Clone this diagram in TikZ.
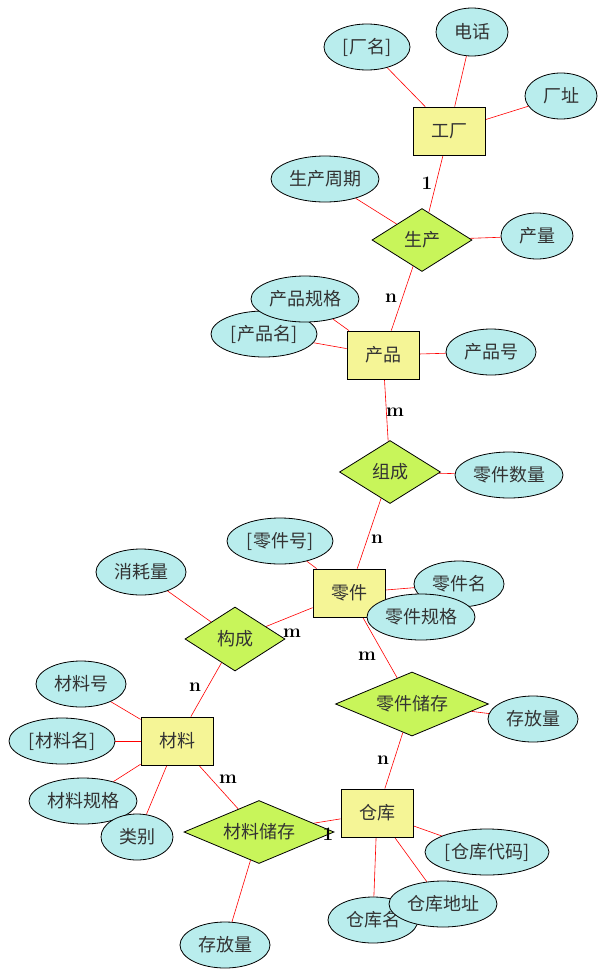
\documentclass[tikz,border=0pt]{standalone}
\usepackage{fontspec}
\newfontfamily\cjk{Noto Sans CJK SC}
\usetikzlibrary{shapes.geometric}
\pgfdeclarelayer{bg}
\pgfsetlayers{bg,main}
\definecolor{entfill}{RGB}{245,245,150}
\definecolor{relfill}{RGB}{200,245,90}
\definecolor{attfill}{RGB}{185,237,237}
\begin{document}
\begin{tikzpicture}[x=1pt,y=-1pt,
  cjkfont/.style={font=\cjk\fontsize{18}{20}\selectfont, text=black!80},
  ent/.style={cjkfont, rectangle, draw=black, line width=0.8pt, fill=entfill, minimum width=72pt, minimum height=48pt, inner sep=0pt},
  rel/.style={cjkfont, diamond, draw=black, line width=0.8pt, fill=relfill, inner sep=0pt, aspect=1.6, minimum height=63pt},
  att/.style={cjkfont, ellipse, draw=black, line width=0.8pt, fill=attfill, inner sep=0pt, minimum height=46pt},
  conn/.style={red, line width=0.6pt},
  card/.style={font=\fontsize{19}{21}\selectfont\bfseries, text=black}]
\useasboundingbox (0,0) rectangle (604,977);

% entities
\node[ent] (gc) at (449,131) {工厂};
\node[ent] (cp) at (383,355) {产品};
\node[ent] (lj) at (349,593) {零件};
\node[ent] (cl) at (177,741) {材料};
\node[ent] (ck) at (377,813) {仓库};

% relationships
\node[rel, minimum width=100pt] (sc) at (422,240) {生产};
\node[rel, minimum width=101pt] (zc) at (390,472) {组成};
\node[rel, minimum width=100pt, minimum height=64pt] (gouc) at (235,639) {构成};
\node[rel, aspect=2.4, minimum width=153pt, minimum height=64pt] (ljcc) at (412,704) {零件储存};
\node[rel, aspect=2.4, minimum width=150pt] (clcc) at (259,832) {材料储存};

% attributes
\node[att, minimum width=86pt] (cm) at (367,47) {[厂名]};
\node[att, minimum width=72pt, minimum height=48pt] (dh) at (472,32) {电话};
\node[att, minimum width=72pt] (cz) at (561,96) {厂址};
\node[att, minimum width=108pt] (sczq) at (325,179) {生产周期};
\node[att, minimum width=72pt] (cl2) at (537,236) {产量};
\node[att, minimum width=106pt] (cpm) at (264,334) {[产品名]};
\node[att, minimum width=108pt] (cpgg) at (305,299) {产品规格};
\node[att, minimum width=90pt] (cph) at (491,352) {产品号};
\node[att, minimum width=108pt] (ljsl) at (509,475) {零件数量};
\node[att, minimum width=106pt] (ljh) at (280,541) {[零件号]};
\node[att, minimum width=90pt] (xhl) at (141,572) {消耗量};
\node[att, minimum width=90pt] (ljm) at (459,584) {零件名};
\node[att, minimum width=108pt] (ljgg) at (421,617) {零件规格};
\node[att, minimum width=90pt] (cflA) at (533,719) {存放量};
\node[att, minimum width=90pt] (clh) at (81,684) {材料号};
\node[att, minimum width=106pt] (clm) at (62,741) {[材料名]};
\node[att, minimum width=108pt] (clgg) at (83,801) {材料规格};
\node[att, minimum width=72pt] (lb) at (137,837) {类别};
\node[att, minimum width=90pt] (cflB) at (225,945) {存放量};
\node[att, minimum width=124pt] (ckdm) at (487,852) {[仓库代码]};
\node[att, minimum width=90pt] (ckm) at (373,920) {仓库名};
\node[att, minimum width=108pt] (ckdz) at (443,904) {仓库地址};

% connectors
\begin{pgfonlayer}{bg}
\fill[white] (0,0) rectangle (604,977);
\draw[conn] (gc) -- (cm);
\draw[conn] (gc) -- (dh);
\draw[conn] (gc) -- (cz);
\draw[conn] (gc) -- (sc);
\draw[conn] (sc) -- (sczq);
\draw[conn] (sc) -- (cl2);
\draw[conn] (sc) -- (cp);
\draw[conn] (cp) -- (cpgg);
\draw[conn] (cp) -- (cpm);
\draw[conn] (cp) -- (cph);
\draw[conn] (cp) -- (zc);
\draw[conn] (zc) -- (ljsl);
\draw[conn] (zc) -- (lj);
\draw[conn] (lj) -- (ljh);
\draw[conn] (lj) -- (ljm);
\draw[conn] (lj) -- (ljgg);
\draw[conn] (lj) -- (gouc);
\draw[conn] (lj) -- (ljcc);
\draw[conn] (gouc) -- (xhl);
\draw[conn] (gouc) -- (cl);
\draw[conn] (cl) -- (clh);
\draw[conn] (cl) -- (clm);
\draw[conn] (cl) -- (clgg);
\draw[conn] (cl) -- (lb);
\draw[conn] (cl) -- (clcc);
\draw[conn] (ljcc) -- (cflA);
\draw[conn] (ljcc) -- (ck);
\draw[conn] (clcc) -- (cflB);
\draw[conn] (clcc) -- (ck);
\draw[conn] (ck) -- (ckdm);
\draw[conn] (ck) -- (ckm);
\draw[conn] (ck) -- (ckdz);
\end{pgfonlayer}

% cardinalities
\node[card] (k1) at (427,183) {1};
\node[card] (k2) at (391,298) {n};
\node[card] (k3) at (395,412) {m};
\node[card] (k4) at (377,539) {n};
\node[card] (k5) at (292,633) {m};
\node[card] (k6) at (195,687) {n};
\node[card] (k7) at (367,656) {m};
\node[card] (k8) at (383,760) {n};
\node[card] (k9) at (228,779) {m};
\node[card] (k10) at (328,834) {1};
\end{tikzpicture}
\end{document}
